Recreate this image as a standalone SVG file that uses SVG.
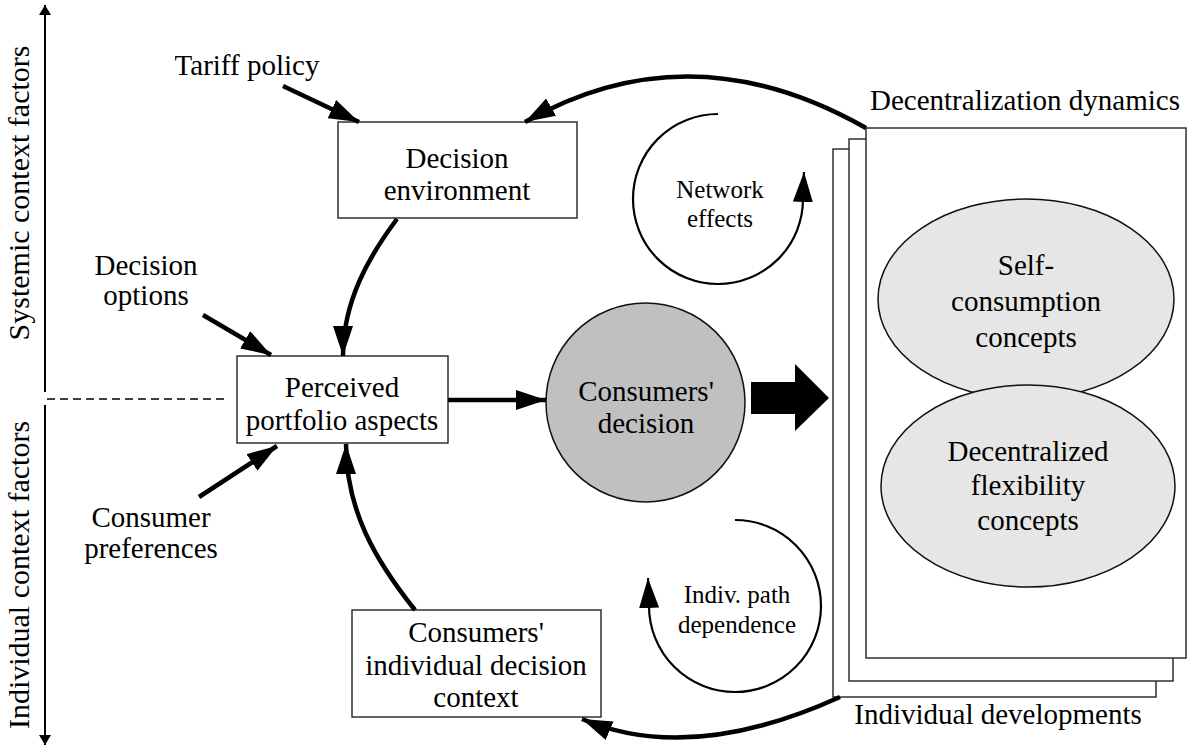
<svg xmlns="http://www.w3.org/2000/svg" width="1187" height="747" viewBox="0 0 1187 747" font-family="Liberation Serif, Times New Roman, serif">
<defs>
<style>
text{fill:#000;text-anchor:middle}
.t{font-size:29px}
.s{font-size:25px}
.ax{font-size:30px}
.box{fill:#fff;stroke:#222;stroke-width:1.4}
.thick{fill:none;stroke:#000;stroke-width:4.5}
.thin{fill:none;stroke:#000;stroke-width:2.2}
</style>
<marker id="ah" markerUnits="userSpaceOnUse" markerWidth="32" markerHeight="22" refX="30" refY="10" orient="auto">
<path d="M0,0 L30,10 L0,20 z" fill="#000"/>
</marker>
<marker id="axh" markerUnits="userSpaceOnUse" markerWidth="12" markerHeight="12" refX="10" refY="6" orient="auto">
<path d="M0,0 L10,6 L0,12 z" fill="#000"/>
</marker>
</defs>
<rect width="1187" height="747" fill="#fff"/>

<g id="axes">
<line x1="45" y1="392" x2="45" y2="5" stroke="#000" stroke-width="2" marker-end="url(#axh)"/>
<line x1="45" y1="405" x2="45" y2="745" stroke="#000" stroke-width="2" marker-end="url(#axh)"/>
<line x1="47" y1="399" x2="228" y2="399" stroke="#000" stroke-width="1.6" stroke-dasharray="8,5"/>
<text class="ax" font-family="Liberation Serif" transform="translate(29,193) rotate(-90)">Systemic context factors</text>
<text class="ax" font-family="Liberation Serif" transform="translate(29,575) rotate(-90)">Individual context factors</text>
</g>

<g id="pages">
<rect class="box" x="833" y="149" width="323" height="548"/>
<rect class="box" x="849" y="139" width="324" height="542"/>
<rect class="box" x="866" y="128" width="320" height="530"/>
<text class="t" font-family="Liberation Serif" x="1025" y="110">Decentralization dynamics</text>
<text class="t" font-family="Liberation Serif" x="998" y="724">Individual developments</text>
</g>

<g id="self-consumption" font-family="Liberation Serif">
<ellipse cx="1026" cy="299" rx="148" ry="100" fill="#e6e6e6" stroke="#111" stroke-width="1.5"/>
<text class="t" x="1026" y="275">Self-</text>
<text class="t" x="1026" y="311">consumption</text>
<text class="t" x="1026" y="347">concepts</text>
</g>

<g id="flexibility" font-family="Liberation Serif">
<ellipse cx="1028" cy="486" rx="147" ry="101" fill="#e6e6e6" stroke="#111" stroke-width="1.5"/>
<text class="t" x="1028" y="461">Decentralized</text>
<text class="t" x="1028" y="495">flexibility</text>
<text class="t" x="1028" y="530">concepts</text>
</g>

<g id="decision-environment" font-family="Liberation Serif">
<rect class="box" x="338" y="122" width="239" height="96"/>
<text class="t" x="457" y="168">Decision</text>
<text class="t" x="457" y="200">environment</text>
</g>

<g id="perceived" font-family="Liberation Serif">
<rect class="box" x="237" y="356" width="211" height="87"/>
<text class="t" x="342" y="397">Perceived</text>
<text class="t" x="342" y="430">portfolio aspects</text>
</g>

<g id="consumers-decision" font-family="Liberation Serif">
<circle cx="645.5" cy="402.5" r="99.5" fill="#c0c0c0" stroke="#111" stroke-width="1.5"/>
<text class="t" x="646" y="401">Consumers'</text>
<text class="t" x="646" y="433">decision</text>
</g>

<g id="individual-context" font-family="Liberation Serif">
<rect class="box" x="352" y="610" width="249" height="107"/>
<text class="t" x="476" y="642">Consumers'</text>
<text class="t" x="476" y="675">individual decision</text>
<text class="t" x="476" y="707">context</text>
</g>

<g id="labels" font-family="Liberation Serif">
<text class="t" x="247" y="75">Tariff policy</text>
<text class="t" x="146" y="275">Decision</text>
<text class="t" x="146" y="305">options</text>
<text class="t" x="151" y="527">Consumer</text>
<text class="t" x="151" y="558">preferences</text>
<text class="s" x="720" y="198">Network</text>
<text class="s" x="720" y="227">effects</text>
<text class="s" x="737" y="603">Indiv. path</text>
<text class="s" x="737" y="633">dependence</text>
</g>

<g id="connectors">
<path class="thick" d="M283,86 L359,122" marker-end="url(#ah)"/>
<path class="thick" d="M203,315 L271,355" marker-end="url(#ah)"/>
<path class="thick" d="M199,497 L277,446" marker-end="url(#ah)"/>
<path class="thick" d="M448,400 L546,400" marker-end="url(#ah)"/>
<path class="thick" d="M397,219 C370,255 343,300 343,356" marker-end="url(#ah)"/>
<path class="thick" d="M415,610 C375,560 346,510 346,444" marker-end="url(#ah)"/>
<path class="thick" d="M866,128 Q690,28 525,122" marker-end="url(#ah)"/>
<path class="thick" d="M840,697 Q690,765 582,719" marker-end="url(#ah)"/>
<path class="thin" d="M718,114 A85,85 0 1 0 803,199 L804,172" marker-end="url(#ah)"/>
<path class="thin" d="M735,520 A86,86 0 1 1 649,606 L648,578" marker-end="url(#ah)"/>
<polygon points="751,382 795,382 795,364 829,398 795,431 795,414 751,414" fill="#000"/>
</g>
</svg>
